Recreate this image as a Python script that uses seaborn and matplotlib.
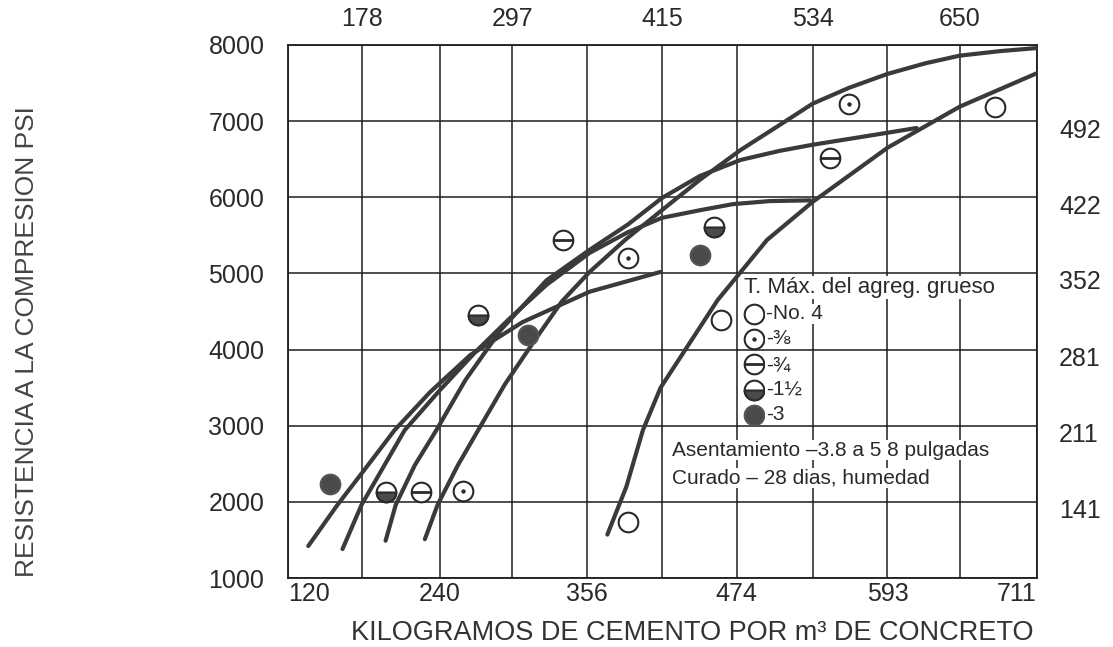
import numpy as np
import pandas as pd
import matplotlib
matplotlib.use("Agg")
import matplotlib.pyplot as plt
import seaborn as sns
from matplotlib.markers import MarkerStyle
from matplotlib.transforms import ScaledTranslation

# ---------------- data ----------------
bottom_ticks = [120, 240, 356, 474, 593, 711]          # kg/m3 (bottom labels)
top_ticks = [178, 297, 415, 534, 650]                  # kg/m3 (top labels)
psi_ticks = [1000, 2000, 3000, 4000, 5000, 6000, 7000, 8000]
right_ticks = [141, 211, 281, 352, 422, 492]           # kg/cm2
PSI_TO_KGCM2 = 0.0703

# curves (kg/m3 , psi)
c3_x = [136, 159, 183, 204, 232, 264, 305, 358, 414]
c3_y = [1420, 1960, 2480, 2940, 3440, 3930, 4360, 4760, 5020]

c112_x = [163, 178, 212, 240, 268, 295, 324, 358, 388, 415, 445, 471, 500, 532]
c112_y = [1380, 1960, 2940, 3470, 3970, 4410, 4850, 5270, 5540, 5730, 5830, 5910, 5950, 5960]

c34_x = [197, 205, 220, 237, 260, 288, 324, 358, 388, 415, 445, 477, 508, 534, 579, 616]
c34_y = [1490, 1960, 2480, 2940, 3600, 4260, 4910, 5310, 5640, 5990, 6280, 6490, 6610, 6690, 6810, 6910]

c38_x = [228, 238, 254, 270, 291, 315, 336, 358, 386, 415, 445, 477, 508, 534, 563, 593, 623, 650, 682, 711]
c38_y = [1510, 1960, 2480, 2940, 3540, 4130, 4630, 5020, 5440, 5830, 6230, 6620, 6950, 7230, 7440, 7620, 7760, 7860, 7920, 7960]

c4_x = [372, 387, 400, 414, 432, 459, 498, 534, 593, 650, 711]
c4_y = [1570, 2200, 2940, 3500, 3960, 4650, 5440, 5940, 6650, 7190, 7630]

# measured points
p3_x, p3_y = [153, 309, 445], [2240, 4190, 5240]
p112_x, p112_y = [197, 270, 456], [2130, 4450, 5610]
p34_x, p34_y = [225, 337, 548], [2130, 5440, 6520]
p38_x, p38_y = [258, 388, 563], [2140, 5200, 7220]
p4_x, p4_y = [388, 462, 678], [1740, 4390, 7180]

legend_labels = ["-No. 4", "-⅜", "-¾", "-1½", "-3"]
legend_title = "T. Máx. del agreg. grueso"
note1 = "Asentamiento –3.8 a 5 8 pulgadas"
note2 = "Curado – 28 dias, humedad"
xlabel = "KILOGRAMOS DE CEMENTO POR m³ DE CONCRETO"
ylabel = "RESISTENCIA A LA COMPRESION PSI"

# ---------------- style ----------------
sns.set_theme(style="white")
plt.rcParams["font.family"] = ["Liberation Sans", "DejaVu Sans"]
INK = "#2a2a2a"
LINE = "#3a3a3a"
DARK = "#4a4a4a"

W, H = 1113, 647
fig = plt.figure(figsize=(W / 100, H / 100), dpi=100)
fig.patch.set_facecolor("white")
ax = fig.add_axes([288 / W, 1 - 578 / H, 749 / W, 533 / H])
ax.set_facecolor("white")

# curves
for xs, ys in [(c3_x, c3_y), (c112_x, c112_y), (c34_x, c34_y), (c38_x, c38_y), (c4_x, c4_y)]:
    df = pd.DataFrame({"x": xs, "y": ys})
    sns.lineplot(data=df, x="x", y="y", sort=False, estimator=None, ax=ax,
                 color=LINE, linewidth=3.0, solid_capstyle="round",
                 solid_joinstyle="round", zorder=3)

S = 200
EW = 1.5
# No. 4 : open circle
sns.scatterplot(x=p4_x, y=p4_y, ax=ax, marker="o", s=S, facecolor="white",
                edgecolor=INK, linewidth=EW, zorder=5)
h4 = ax.collections[-1]
# 3/8 : open circle + dot
sns.scatterplot(x=p38_x, y=p38_y, ax=ax, marker="o", s=S, facecolor="white",
                edgecolor=INK, linewidth=EW, zorder=5)
h38a = ax.collections[-1]
sns.scatterplot(x=p38_x, y=p38_y, ax=ax, marker="o", s=10, color=INK,
                edgecolor=INK, linewidth=0, zorder=6)
h38b = ax.collections[-1]
# 3/4 : circle + horizontal bar
sns.scatterplot(x=p34_x, y=p34_y, ax=ax, marker="o", s=S, facecolor="white",
                edgecolor=INK, linewidth=EW, zorder=5)
h34a = ax.collections[-1]
sns.scatterplot(x=p34_x, y=p34_y, ax=ax, marker="_", s=S, color=INK,
                linewidth=2.0, zorder=6)
h34b = ax.collections[-1]
# 1 1/2 : bottom half filled
sns.scatterplot(x=p112_x, y=p112_y, ax=ax, marker="o", s=S, facecolor="white",
                edgecolor=INK, linewidth=EW, zorder=5)
h112a = ax.collections[-1]
sns.scatterplot(x=p112_x, y=p112_y, ax=ax, marker=MarkerStyle("o", fillstyle="bottom"),
                s=S, color=DARK, edgecolor=INK, linewidth=EW, zorder=6)
h112b = ax.collections[-1]
# 3 : filled
sns.scatterplot(x=p3_x, y=p3_y, ax=ax, marker="o", s=S, color=DARK,
                edgecolor="#555555", linewidth=EW, zorder=5)
h3 = ax.collections[-1]

# axes limits, ticks, grid
ax.set_xlim(bottom_ticks[0], bottom_ticks[-1])
ax.set_ylim(psi_ticks[0], psi_ticks[-1])
ax.set_xticks(bottom_ticks)
ax.set_xticks(top_ticks, minor=True)
ax.set_yticks(psi_ticks)
ax.set_xlabel("")
ax.set_ylabel("")
ax.grid(True, which="both", axis="x", color="#1e1e1e", linewidth=1.1, zorder=1)
ax.grid(True, which="major", axis="y", color="#1e1e1e", linewidth=1.1, zorder=1)
ax.set_axisbelow(True)
for sp in ax.spines.values():
    sp.set_color("#1e1e1e")
    sp.set_linewidth(1.3)
ax.tick_params(axis="x", which="both", length=0, pad=3, labelsize=18, labelcolor=INK)
ax.tick_params(axis="y", which="both", length=0, pad=17, labelsize=18, labelcolor=INK)
ax.set_xticklabels([str(v) for v in bottom_ticks])
ax.set_yticklabels([str(v) for v in psi_ticks])
xl = ax.get_xticklabels()
xl[0].set_ha("left")
xl[-1].set_ha("right")

# top axis
top = ax.secondary_xaxis("top")
top.set_xticks(top_ticks)
top.set_xticklabels([str(v) for v in top_ticks])
top.tick_params(length=0, pad=10, labelsize=18, labelcolor=INK)
top.spines["top"].set_visible(False)

# right axis (kg/cm2)
right = ax.secondary_yaxis("right", functions=(lambda p: p * PSI_TO_KGCM2,
                                                lambda k: k / PSI_TO_KGCM2))
right.set_yticks(right_ticks)
right.set_yticklabels([str(v) for v in right_ticks])
right.tick_params(length=0, pad=16, labelsize=18, labelcolor=INK)
right.spines["right"].set_visible(False)
for lab in right.get_yticklabels():
    lab.set_transform(lab.get_transform() + ScaledTranslation(0, -7 / 100, fig.dpi_scale_trans))

# legend
handles = [h4, (h38a, h38b), (h34a, h34b), (h112a, h112b), h3]
leg = ax.legend(handles=handles, labels=legend_labels, title=legend_title,
                loc="upper left", bbox_to_anchor=(744 / W, 1 - 277 / H),
                bbox_transform=fig.transFigure, frameon=False, fontsize=15,
                title_fontsize=16, alignment="left", borderpad=0.0,
                handlelength=1.0, handletextpad=0.05, labelspacing=0.30,
                borderaxespad=0.0)
for t in leg.get_texts():
    t.set_color(INK)
    t.set_bbox(dict(facecolor="white", edgecolor="none", pad=0.5))
leg.get_title().set_color(INK)
leg.get_title().set_bbox(dict(facecolor="white", edgecolor="none", pad=0.5))
leg.set_zorder(7)

# notes
for txt, ypx in [(note1, 450), (note2, 478)]:
    fig.text(672 / W, 1 - ypx / H, txt, ha="left", va="center", fontsize=15, color=INK,
             bbox=dict(facecolor="white", edgecolor="none", pad=0.5), zorder=8)

# axis titles
fig.text(692 / W, 1 - 633 / H, xlabel, ha="center", va="center", fontsize=19.5, color="#333333")
fig.text(27 / W, 1 - 342 / H, ylabel, ha="center", va="center", rotation=90,
         fontsize=19, color="#444444")

fig.savefig("out.png", dpi=100, facecolor="white")
